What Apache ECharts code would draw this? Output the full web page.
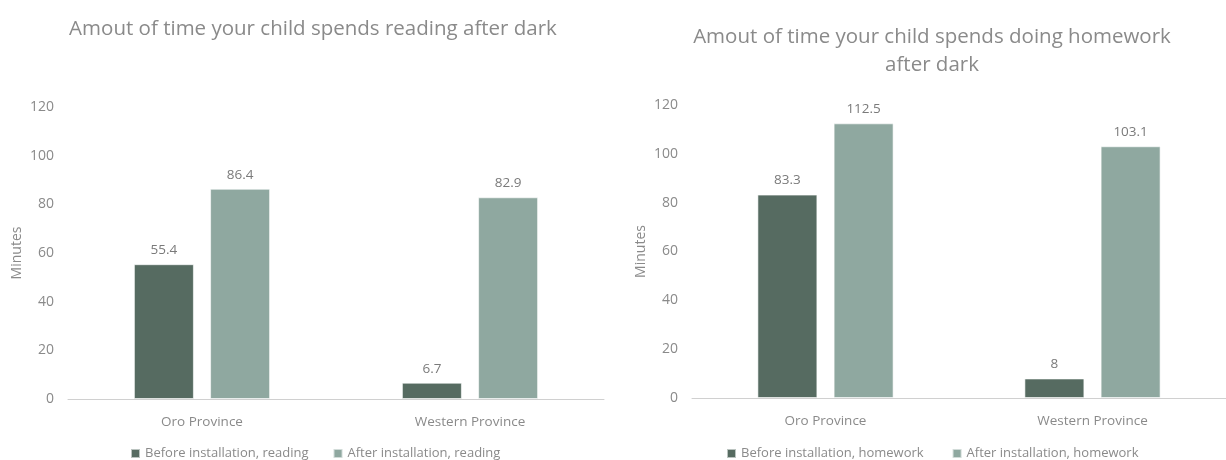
<!DOCTYPE html>
<html>
<head>
<meta charset="utf-8">
<script src="https://cdn.jsdelivr.net/npm/echarts@6/dist/echarts.min.js"></script>
<style>
  html, body { margin: 0; padding: 0; background: #fff; }
  #chart { width: 1226px; height: 460px; }
</style>
</head>
<body>
<div id="chart"></div>
<script>
// Categories and values for both panels
const provinces = ['Oro Province', 'Western Province'];
const readingBefore = [55.4, 6.7];
const readingAfter = [86.4, 82.9];
const homeworkBefore = [83.3, 8];
const homeworkAfter = [112.5, 103.1];

const yTicks = { min: 0, max: 120, interval: 20 };

const DARK = '#566b61';
const LIGHT = '#8fa8a0';
const FONT = '"Open Sans", "Noto Sans", sans-serif';
const GREY = '#8a8a8a';

function valueAxis(gridIndex) {
  return {
    type: 'value', gridIndex,
    min: yTicks.min, max: yTicks.max, interval: yTicks.interval,
    name: 'Minutes', nameLocation: 'middle', nameGap: 44,
    nameTextStyle: { color: GREY, fontSize: 14, fontFamily: FONT },
    axisLine: { show: false }, axisTick: { show: false },
    splitLine: { show: false },
    axisLabel: { color: GREY, fontSize: 14, fontFamily: FONT, margin: 14 }
  };
}
function catAxis(gridIndex) {
  return {
    type: 'category', gridIndex, data: provinces,
    axisLine: { lineStyle: { color: '#d0d0d0', width: 1 } },
    axisTick: { show: false },
    axisLabel: { color: GREY, fontSize: 13.5, fontFamily: FONT, margin: 16 }
  };
}
function barSeries(name, data, color, idx) {
  return {
    name, type: 'bar', data, xAxisIndex: idx, yAxisIndex: idx,
    barWidth: 60, barGap: '27%',
    itemStyle: { color, borderColor: 'rgba(255,255,255,0.6)', borderWidth: 1 },
    label: { show: true, position: 'top', distance: 7, color: '#7a7a7a',
             fontSize: 13.5, fontFamily: FONT }
  };
}

const legendText = { color: GREY, fontSize: 13, fontFamily: FONT };
const titleText = { color: '#8a8a8a', fontSize: 20.5, fontWeight: 'normal', fontFamily: FONT, lineHeight: 28 };

const chart = echarts.init(document.getElementById('chart'), null, { renderer: 'canvas' });
chart.setOption({
  animation: false,
  title: [
    { text: 'Amout of time your child spends reading after dark',
      left: 308, top: 10, textAlign: 'center', textStyle: titleText },
    { text: 'Amout of time your child spends doing homework\nafter dark',
      left: 927, top: 18, textAlign: 'center', textStyle: titleText }
  ],
  legend: [
    { data: ['Before installation, reading', 'After installation, reading'],
      left: 125, top: 442, itemWidth: 9, itemHeight: 9, itemGap: 24, icon: 'rect',
      textStyle: legendText },
    { data: ['Before installation, homework', 'After installation, homework'],
      left: 721, top: 442, itemWidth: 9, itemHeight: 9, itemGap: 28, icon: 'rect',
      textStyle: legendText }
  ],
  grid: [
    { left: 68, right: 622, top: 107, bottom: 61 },
    { left: 692, right: 0, top: 105, bottom: 62 }
  ],
  xAxis: [catAxis(0), catAxis(1)],
  yAxis: [valueAxis(0), valueAxis(1)],
  series: [
    barSeries('Before installation, reading', readingBefore, DARK, 0),
    barSeries('After installation, reading', readingAfter, LIGHT, 0),
    barSeries('Before installation, homework', homeworkBefore, DARK, 1),
    barSeries('After installation, homework', homeworkAfter, LIGHT, 1)
  ]
});
</script>
</body>
</html>
